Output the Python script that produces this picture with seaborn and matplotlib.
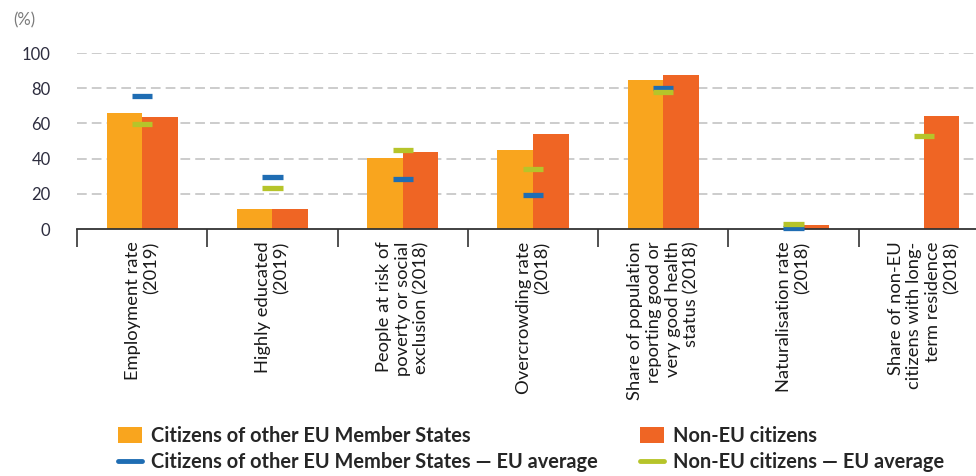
import numpy as np
import pandas as pd
import matplotlib
matplotlib.use("Agg")
import matplotlib.pyplot as plt
from matplotlib.patches import Patch
from matplotlib.lines import Line2D
import seaborn as sns

categories = [
    "Employment rate\n(2019)",
    "Highly educated\n(2019)",
    "People at risk of\npoverty or social\nexclusion (2018)",
    "Overcrowding rate\n(2018)",
    "Share of population\nreporting good or\nvery good health\nstatus (2018)",
    "Naturalisation rate\n(2018)",
    "Share of non-EU\ncitizens with long-\nterm residence\n(2018)",
]
other_eu = [66, 11.4, 40.3, 44.7, 84.4, np.nan, np.nan]
non_eu = [63.6, 11.4, 43.8, 53.8, 87.4, 2.3, 64.3]
other_eu_avg = [75.8, 29.3, 28.6, 19.4, 80.0, 0.3, np.nan]
non_eu_avg = [59.8, 23.3, 44.8, 34.3, 78.0, 2.7, 52.7]
yticks = [0, 20, 40, 60, 80, 100]

series_names = ["Citizens of other EU Member States", "Non-EU citizens"]
avg_names = ["Citizens of other EU Member States \u2014 EU average",
             "Non-EU citizens \u2014 EU average"]

ORANGE = "#F9A51E"
RED = "#EF6524"
BLUE = "#1F6DB3"
GREEN = "#B6C42A"

sns.set_theme(style="white")
plt.rcParams["font.family"] = ["Lato", "DejaVu Sans"]

df = pd.DataFrame({
    "category": categories * 2,
    "series": [series_names[0]] * len(categories) + [series_names[1]] * len(categories),
    "value": other_eu + non_eu,
})

fig = plt.figure(figsize=(9.76, 4.76), dpi=100)
ax = fig.add_axes([77 / 976, 1 - 229 / 476, (989 - 77) / 976, (229 - 53) / 476])

sns.barplot(data=df, x="category", y="value", hue="series",
            palette=[ORANGE, RED], width=0.545, gap=0, dodge=True,
            saturation=1, ax=ax, legend=False, zorder=2, linewidth=0)

pos = np.arange(len(categories))
ax.hlines(other_eu_avg, pos - 0.078, pos + 0.078, colors=BLUE, linewidth=3.8,
          zorder=4, clip_on=False)
ax.hlines(non_eu_avg, pos - 0.078, pos + 0.078, colors=GREEN, linewidth=3.8,
          zorder=4, clip_on=False)

ax.set_ylim(0, 100)
ax.set_xlim(-0.5, 6.5)
ax.set_yticks(yticks)
ax.set_yticklabels([str(t) for t in yticks], fontsize=12, color="#2d2d3f")
ax.tick_params(axis="y", length=0, pad=19)
for t in yticks[1:]:
    ax.axhline(t, color="#cccccc", linewidth=1.4, dashes=(5, 2.6), zorder=1)

for s in ["top", "right", "left"]:
    ax.spines[s].set_visible(False)
ax.spines["bottom"].set_color("#333333")
ax.spines["bottom"].set_linewidth(1.3)
ax.spines["bottom"].set_zorder(3)

ax.set_xticks(np.arange(len(categories) + 1) - 0.5)
ax.set_xticklabels([])
ax.tick_params(axis="x", direction="out", length=13, width=1.2, color="#333333", bottom=True)
for i, lab in enumerate(categories):
    ax.text(i, -7.0, lab, rotation=90, ha="center", va="top", multialignment="right",
            fontsize=13.2, color="#1a1a1a", linespacing=1.2,
            transform=ax.transData, clip_on=False)

ax.set_xlabel("")
ax.set_ylabel("")
fig.text(13 / 976, 1 - 20 / 476, "(%)", fontsize=12, color="#7a7a7a", va="center", ha="left")

h1 = [Patch(facecolor=ORANGE, edgecolor="none"), Line2D([], [], color=BLUE, linewidth=3.5)]
h2 = [Patch(facecolor=RED, edgecolor="none"), Line2D([], [], color=GREEN, linewidth=3.5)]
leg_kw = dict(frameon=False, loc="upper left", handlelength=1.2, handleheight=0.8,
              handletextpad=0.45, labelspacing=0.3, borderpad=0, borderaxespad=0,
              prop={"weight": "bold", "size": 14.4})
fig.legend(h1, [series_names[0], avg_names[0]], bbox_to_anchor=(118 / 976, 1 - 426 / 476), **leg_kw)
fig.legend(h2, [series_names[1], avg_names[1]], bbox_to_anchor=(640 / 976, 1 - 426 / 476), **leg_kw)

fig.savefig("out.png", dpi=100)
